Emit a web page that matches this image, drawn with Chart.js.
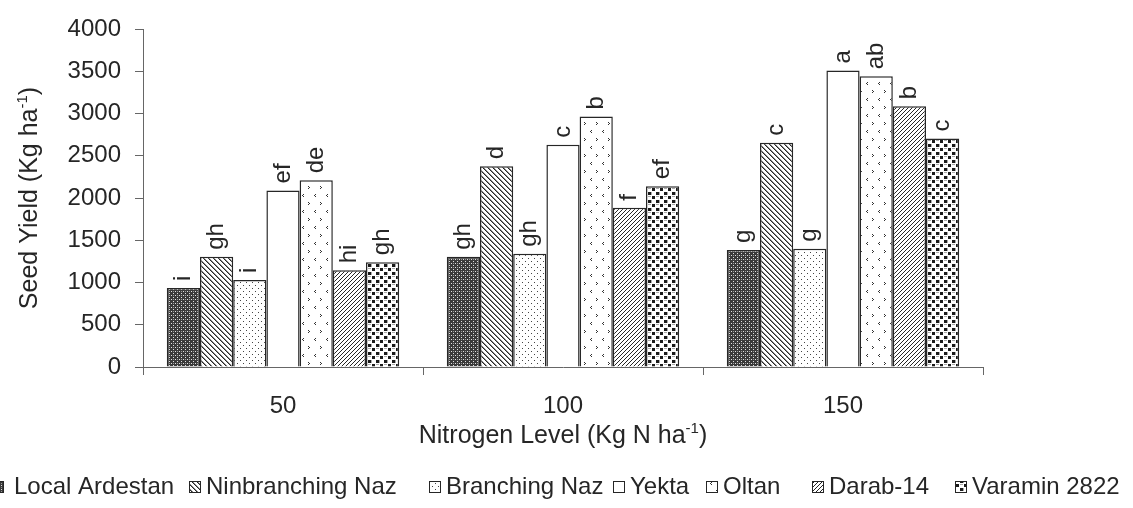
<!DOCTYPE html>
<html>
<head>
<meta charset="utf-8">
<script src="https://cdn.jsdelivr.net/npm/chart.js@4.4.1/dist/chart.umd.min.js"></script>
<style>
html,body{margin:0;padding:0;background:#fff;}
#wrap{width:1133px;height:508px;position:relative;}
</style>
</head>
<body>
<div id="wrap"><canvas id="c"></canvas></div>
<script>
// ---- data ----
const nitrogenLevels = ['50', '100', '150'];
const cultivars = ['Local Ardestan', 'Ninbranching Naz', 'Branching Naz', 'Yekta', 'Oltan', 'Darab-14', 'Varamin 2822'];
const localArdestan   = [935, 1305, 1385];
const ninbranchingNaz = [1305, 2375, 2655];
const branchingNaz    = [1030, 1340, 1400];
const yekta           = [2090, 2630, 3510];
const oltan           = [2210, 2965, 3440];
const darab14         = [1145, 1885, 3085];
const varamin2822     = [1240, 2140, 2705];
const lettersLocalArdestan   = ['i', 'gh', 'g'];
const lettersNinbranchingNaz = ['gh', 'd', 'c'];
const lettersBranchingNaz    = ['i', 'gh', 'g'];
const lettersYekta           = ['ef', 'c', 'a'];
const lettersOltan           = ['de', 'b', 'ab'];
const lettersDarab14         = ['hi', 'f', 'b'];
const lettersVaramin2822     = ['gh', 'ef', 'c'];
const yTicks = [0, 500, 1000, 1500, 2000, 2500, 3000, 3500, 4000];

// ---- patterns ----
function makePattern(w, h, draw) {
  const c = document.createElement('canvas');
  c.width = w; c.height = h;
  const x = c.getContext('2d');
  x.fillStyle = '#fff'; x.fillRect(0, 0, w, h);
  draw(x, w, h);
  return document.createElement('canvas').getContext('2d').createPattern(c, 'repeat');
}
const INK = '#262626';
const patterns = [
  makePattern(4, 4, (x) => { x.fillStyle = '#3a3a3a'; x.fillRect(0,0,4,4); x.fillStyle = '#e0e0e0'; x.fillRect(1,1,1,1); x.fillRect(3,3,1,1); x.fillStyle = '#999'; x.fillRect(1,3,1,1); }),
  makePattern(5, 5, (x) => { for (let i = 0; i < 5; i++) { x.fillStyle = INK; x.fillRect(i, i, 1, 1); x.fillStyle = '#888'; x.fillRect((i+1)%5, i, 1, 1); } }),
  makePattern(6, 6, (x) => { x.fillStyle = '#444'; x.fillRect(0,0,1,1); x.fillRect(3,3,1,1); }),
  makePattern(4, 4, () => {}),
  makePattern(12, 16, (x) => { x.fillStyle = '#333'; x.fillRect(2,3,1,1); x.fillRect(3,2,1,1); x.fillRect(3,4,1,1);
                                x.fillRect(8,10,1,1); x.fillRect(9,11,1,1); x.fillRect(8,12,1,1); }),
  makePattern(4, 4, (x) => { x.fillStyle = INK; for (let i = 0; i < 4; i++) { x.fillRect(3 - i, i, 1, 1); } }),
  makePattern(8, 8, (x) => { x.fillStyle = '#1a1a1a'; x.fillRect(0,0,3,3); x.fillRect(4,4,3,3); x.fillStyle = '#aaa'; x.fillRect(3,0,1,3); x.fillRect(0,4,3,1); }),
];

const seriesValues = [localArdestan, ninbranchingNaz, branchingNaz, yekta, oltan, darab14, varamin2822];
const seriesLetters = [lettersLocalArdestan, lettersNinbranchingNaz, lettersBranchingNaz, lettersYekta, lettersOltan, lettersDarab14, lettersVaramin2822];

const FONT = '"Liberation Sans", Arial, sans-serif';

const datasets = cultivars.map((name, i) => ({
  label: name,
  data: seriesValues[i],
  backgroundColor: patterns[i],
  borderColor: INK,
  borderWidth: 1.5,
  categoryPercentage: 0.83,
  barPercentage: 1.0,
}));

const textPlugin = {
  id: 'texts',
  afterDatasetsDraw(chart) {
    const ctx = chart.ctx;
    ctx.save();
    ctx.fillStyle = INK;
    ctx.font = '24px ' + FONT;
    ctx.textAlign = 'left';
    ctx.textBaseline = 'middle';
    chart.data.datasets.forEach((ds, di) => {
      const meta = chart.getDatasetMeta(di);
      meta.data.forEach((bar, j) => {
        ctx.save();
        ctx.translate(bar.x, bar.y - 7);
        ctx.rotate(-Math.PI / 2);
        ctx.fillText(seriesLetters[di][j], 0, 0);
        ctx.restore();
      });
    });
    ctx.restore();
  },
  afterDraw(chart) {
    const ctx = chart.ctx;
    const area = chart.chartArea;
    ctx.save();
    ctx.fillStyle = INK;
    function drawSup(parts, cx, cy) {
      ctx.font = '25px ' + FONT;
      const w1 = ctx.measureText(parts[0]).width;
      const w3 = ctx.measureText(parts[2]).width;
      ctx.font = '15px ' + FONT;
      const w2 = ctx.measureText(parts[1]).width;
      const total = w1 + w2 + w3;
      let x = cx - total / 2;
      ctx.textAlign = 'left';
      ctx.textBaseline = 'alphabetic';
      ctx.font = '25px ' + FONT;
      ctx.fillText(parts[0], x, cy); x += w1;
      ctx.font = '15px ' + FONT;
      ctx.fillText(parts[1], x, cy - 10); x += w2;
      ctx.font = '25px ' + FONT;
      ctx.fillText(parts[2], x, cy);
    }
    drawSup(['Nitrogen Level (Kg N ha', '-1', ')'], (area.left + area.right) / 2, 443);
    ctx.save();
    ctx.translate(37, (area.top + area.bottom) / 2);
    ctx.rotate(-Math.PI / 2);
    drawSup(['Seed Yield (Kg ha', '-1', ')'], 0, 0);
    ctx.restore();

    // legend
    const boxX = [-8, 189, 429, 613, 706, 812, 955];
    ctx.font = '24px ' + FONT;
    ctx.textBaseline = 'alphabetic';
    ctx.textAlign = 'left';
    cultivars.forEach((name, i) => {
      const bx = boxX[i], by = 481, s = 12;
      ctx.fillStyle = patterns[i];
      ctx.fillRect(bx, by, s, s);
      ctx.strokeStyle = INK;
      ctx.lineWidth = 1;
      ctx.strokeRect(bx + 0.5, by + 0.5, s - 1, s - 1);
      ctx.fillStyle = INK;
      ctx.fillText(name, bx + s + (i === 0 ? 10 : 5), 494);
    });
    ctx.restore();
  }
};

new Chart(document.getElementById('c'), {
  type: 'bar',
  data: { labels: nitrogenLevels, datasets },
  options: {
    responsive: true,
    maintainAspectRatio: false,
    animation: false,
    layout: { padding: { top: 29, right: 150, left: 0, bottom: 0 } },
    plugins: { legend: { display: false }, tooltip: { enabled: false }, title: { display: false } },
    scales: {
      x: {
        afterFit(scale) { scale.height = 141; },
        grid: { drawOnChartArea: false, drawTicks: true, tickLength: 8, color: '#666', offset: true },
        border: { color: '#666', width: 1 },
        ticks: { color: INK, font: { family: FONT, size: 24 }, padding: 17 },
      },
      y: {
        min: 0, max: 4000,
        afterFit(scale) { scale.width = 143; },
        afterBuildTicks(scale) { scale.ticks = yTicks.map(v => ({ value: v })); },
        grid: { drawOnChartArea: false, drawTicks: true, tickLength: 8, color: '#666' },
        border: { color: '#666', width: 1 },
        ticks: { color: INK, font: { family: FONT, size: 24 }, padding: 14, callback: (v) => String(v) },
      }
    }
  },
  plugins: [textPlugin]
});
</script>
</body>
</html>
